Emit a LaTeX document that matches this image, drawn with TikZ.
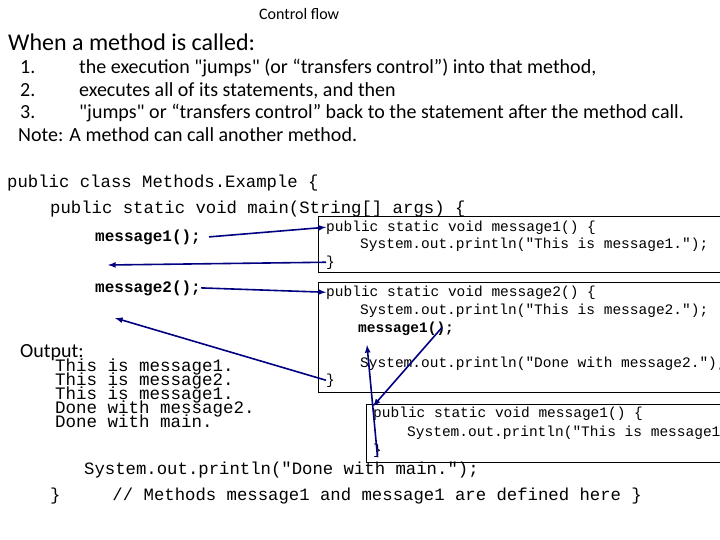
\documentclass[tikz,border=0pt]{standalone}
\usepackage{fontspec}
\setmainfont{Carlito}
\setmonofont{Liberation Mono}
\usetikzlibrary{positioning}
\tikzset{
  txt/.style={anchor=base west, inner sep=0pt},
  code/.style={txt, font=\ttfamily\fontsize{17.3}{17.3}\selectfont},
  outcode/.style={txt, font=\ttfamily\fontsize{17.5}{17.5}\selectfont},
  smallcode/.style={txt, font=\ttfamily\fontsize{14.5}{14.5}\selectfont},
  methodbox/.style={draw, line width=0.6pt},
  flow/.style={draw=blue!50!black, line width=1.6pt, ->, >=latex}
}
\begin{document}
\begin{tikzpicture}[x=1pt,y=-1pt]
    \useasboundingbox (0,0) rectangle (720,540);
    % Heading
    \node[txt, font=\fontsize{16}{16}\selectfont] (title) at (259,20) {Control flow};
    \node[txt, font=\fontsize{24}{24}\selectfont] (when) at (8,51) {When a method is called:};
    \node[txt, font=\fontsize{20}{20}\selectfont] (n1) at (20,74) {1.};
    \node[txt, font=\fontsize{20}{20}\selectfont] (n2) at (20,97) {2.};
    \node[txt, font=\fontsize{20}{20}\selectfont] (n3) at (20,119) {3.};
    \node[txt, font=\fontsize{20}{20}\selectfont] (i1) at (79,74) {the execution \textquotedbl jumps\textquotedbl{} (or “transfers control”) into that method,};
    \node[txt, font=\fontsize{20}{20}\selectfont] (i2) at (79,97) {executes all of its statements, and then};
    \node[txt, font=\fontsize{20}{20}\selectfont] (i3) at (79,119) {\textquotedbl jumps\textquotedbl{} or “transfers control” back to the statement after the method call.};
    \node[txt, font=\fontsize{20}{20}\selectfont] (note) at (18,142) {Note: A method can call another method.};

    % Main program
    \node[code] (cls) at (7,188) {public class Methods.Example \{};
    \node[code] (main) at (50,214) {public static void main(String[] args) \{};
    \node[code, font=\ttfamily\bfseries\fontsize{16}{16}\selectfont] (call1) at (95,241) {message1();};
    \node[code, font=\ttfamily\bfseries\fontsize{16}{16}\selectfont] (call2) at (95,292) {message2();};
    \node[code] (done) at (84,474) {System.out.println("Done with main.");};
    \node[code] (close) at (50,500) {\}\ \ \ \ \ // Methods message1 and message1 are defined here \}};

    % Output
    \node[txt, font=\fontsize{20}{20}\selectfont] (outlbl) at (20,357) {Output:};
    \node[outcode] (o1) at (55,371) {This is message1.};
    \node[outcode] (o2) at (55,385) {This is message2.};
    \node[outcode] (o3) at (55,399) {This is message1.};
    \node[outcode] (o4) at (55,413) {Done with message2.};
    \node[outcode] (o5) at (55,427) {Done with main.};

    % Method boxes
    \draw[methodbox] (318,216) rectangle (722,272);
    \node[smallcode] (m1head) at (326,231) {public static void message1() \{};
    \node[smallcode] (m1body) at (360,248) {System.out.println("This is message1.");};
    \node[smallcode] (m1end) at (326,266) {\}};

    \draw[methodbox] (318,282) rectangle (722,392);
    \node[smallcode] (m2head) at (326,296) {public static void message2() \{};
    \node[smallcode] (m2body) at (360,314) {System.out.println("This is message2.");};
    \node[smallcode, font=\ttfamily\bfseries\fontsize{14.5}{14.5}\selectfont] (m2call) at (358,332) {message1();};
    \node[smallcode] (m2done) at (360,367) {System.out.println("Done with message2.");};
    \node[smallcode] (m2end) at (326,384) {\}};

    \draw[methodbox] (366,404) rectangle (722,462);
    \node[smallcode] (m3head) at (373,417) {public static void message1() \{};
    \node[smallcode] (m3body) at (407,436) {System.out.println("This is message1.};
    \node[smallcode] (m3end) at (373,454) {\}};

    % Control flow arrows
    \coordinate (back1) at (108,265);
    \coordinate (back2) at (115,318);
    \coordinate (back3) at (367,345);
    \draw[flow] (call1.east) ++(8,0) -- (m1head.west);
    \draw[flow] (m1end.west) -- (back1);
    \draw[flow] (call2.east) -- (m2head.west);
    \draw[flow] (m2end.west) -- (back2);
    \draw[flow] (m2call.north east) ++(-12,6) -- (m3head.north west);
    \draw[flow] (m3end.south) -- (back3);
\end{tikzpicture}
\end{document}
